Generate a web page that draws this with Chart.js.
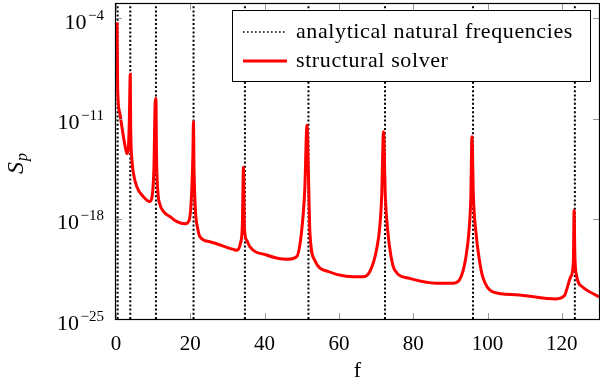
<!DOCTYPE html>
<html>
<head>
<meta charset="utf-8">
<script src="https://cdn.jsdelivr.net/npm/chart.js@4.4.1/dist/chart.umd.min.js"></script>
<style>
    html, body { margin: 0; padding: 0; background: #fff; }
    #wrap { width: 600px; height: 385px; }
</style>
</head>
<body>
<div id="wrap"><canvas id="chart" width="600" height="385"></canvas></div>
<script>
// analytische Eigenfrequenzen (gestrichelte Linien)
const naturalFreqs = [0.43, 3.84, 10.75, 20.87, 34.7, 51.8, 72.4, 96.1, 123.5];

// Strukturlöser: Frequenz und log10(S_p)
const solverF = [
    0.27, 0.45, 1.0, 1.6, 2.5, 2.95, 3.3, 3.6, 3.84, 3.95, 4.3, 4.7, 5.6, 7.4, 9.0, 9.6,
    10.2, 10.55, 10.75, 10.9, 11.3, 11.7, 12.8, 14.6, 16.4, 18.6, 19.7, 20.3, 20.7, 20.85,
    21.0, 21.4, 21.9, 22.6, 25.3, 31.6, 32.5, 33.5, 34.0, 34.3, 34.55, 35.2, 36.0, 40.5,
    45.9, 48.6, 49.9, 50.8, 51.4, 51.8, 52.2, 53.5, 57.3, 66.5, 68.3, 70.1, 71.0, 71.5,
    72.0, 72.5, 73.2, 74.0, 75.0, 79.0, 86.2, 90.6, 92.4, 94.2, 95.1, 95.5, 95.8, 96.2,
    96.9, 97.7, 98.7, 101.4, 107.6, 118.4, 120.6, 122.4, 123.1, 123.3, 123.5, 123.9,
    125.5, 128.2, 130.0
];
const solverExp = [
    -4.27, -9.0, -10.6, -11.6, -13.0, -13.45, -13.2, -11.0, -7.9, -11.5, -13.9, -14.83, -15.77, -16.47, -16.8, -16.6,
    -14.5, -9.9, -9.6, -13.5, -16.2, -16.9, -17.5, -17.86, -18.2, -18.35, -18.1, -16.5, -13.5, -11.2,
    -14.5, -17.5, -18.56, -19.26, -19.6, -20.14, -20.2, -19.7, -18.5, -14.4, -18.6, -19.5, -19.95, -20.53,
    -20.83, -20.65, -19.0, -16.0, -11.46, -15.0, -19.0, -20.9, -21.7, -22.05, -21.7, -20.2, -18.56, -16.5,
    -11.93, -16.5, -19.0, -20.6, -21.58, -22.16, -22.5, -22.5, -22.28, -20.65, -18.56, -16.5, -12.28, -16.5,
    -19.0, -20.7, -22.05, -23.1, -23.3, -23.6, -23.4, -22.05, -21.0, -17.4, -20.5, -21.9,
    -22.75, -23.2, -23.45
];

// Achsen
const xTicks = [0, 20, 40, 60, 80, 100, 120];
const xRange = [0, 130];
const yTickExps = [-25, -18, -11, -4];
const yRangeExp = [-25, -3];

const legendLabels = ['analytical natural frequencies', 'structural solver'];

const SERIF = '"Liberation Serif", "DejaVu Serif", serif';
const DOT_DASH = [2, 2.2];

// Datensätze aufbauen
const freqSets = naturalFreqs.map(f => ({
    label: legendLabels[0],
    data: [{ x: f, y: Math.pow(10, yRangeExp[0]) }, { x: f, y: Math.pow(10, yRangeExp[1]) }],
    borderColor: '#000',
    borderWidth: 2,
    borderDash: DOT_DASH,
    pointRadius: 0,
    order: 1
}));

const solverSet = {
    label: legendLabels[1],
    data: solverF.map((f, i) => ({ x: f, y: Math.pow(10, solverExp[i]) })),
    borderColor: 'rgb(255, 0, 0)',
    borderWidth: 3,
    pointRadius: 0,
    cubicInterpolationMode: 'monotone',
    order: 0
};

/**
 * Rahmen, nach innen zeigende Ticks, y-Beschriftung mit Exponent und Legende
 */
const decorPlugin = {
    id: 'decor',
    afterDatasetsDraw(chart) {
        const { ctx, chartArea: a, scales } = chart;
        ctx.save();

        // Ticks nach innen
        ctx.strokeStyle = '#9a9a9a';
        ctx.lineWidth = 1;
        ctx.beginPath();
        xTicks.forEach(v => {
            const px = Math.round(scales.x.getPixelForValue(v)) + 0.5;
            ctx.moveTo(px, a.bottom); ctx.lineTo(px, a.bottom - 6);
            ctx.moveTo(px, a.top); ctx.lineTo(px, a.top + 6);
        });
        yTickExps.forEach(e => {
            const py = Math.round(scales.y.getPixelForValue(Math.pow(10, e))) + 0.5;
            ctx.moveTo(a.left, py); ctx.lineTo(a.left + 6, py);
            ctx.moveTo(a.right, py); ctx.lineTo(a.right - 6, py);
        });
        ctx.stroke();

        // Rahmen
        ctx.strokeStyle = '#000';
        ctx.lineWidth = 1.2;
        ctx.strokeRect(a.left - 0.5, a.top - 0.5, a.right - a.left + 1, a.bottom - a.top + 1);

        // Legende
        const lx = 232.5, ly = 10.5, lw = 358, lh = 71;
        ctx.fillStyle = '#fff';
        ctx.fillRect(lx, ly, lw, lh);
        ctx.strokeStyle = '#000';
        ctx.lineWidth = 1;
        ctx.strokeRect(lx, ly, lw, lh);

        ctx.beginPath();
        ctx.setLineDash([1.6, 2.4]);
        ctx.lineWidth = 1.6;
        ctx.moveTo(243, 32); ctx.lineTo(287, 32);
        ctx.stroke();
        ctx.setLineDash([]);
        ctx.beginPath();
        ctx.strokeStyle = 'rgb(255, 0, 0)';
        ctx.lineWidth = 3;
        ctx.moveTo(243, 61); ctx.lineTo(287, 61);
        ctx.stroke();

        ctx.fillStyle = '#000';
        ctx.font = '22px ' + SERIF;
        ctx.letterSpacing = '0.6px';
        ctx.textAlign = 'left';
        ctx.textBaseline = 'alphabetic';
        ctx.fillText(legendLabels[0], 296, 37.5);
        ctx.fillText(legendLabels[1], 296, 66.5);
        ctx.letterSpacing = '0px';

        ctx.restore();
    },
    afterDraw(chart) {
        const { ctx, scales } = chart;
        ctx.save();
        ctx.fillStyle = '#000';
        ctx.textBaseline = 'alphabetic';

        // y-Beschriftung 10^e
        yTickExps.forEach(e => {
            const py = scales.y.getPixelForValue(Math.pow(10, e));
            const sup = '\u2212' + Math.abs(e);
            ctx.font = '15px ' + SERIF;
            const supW = ctx.measureText(sup).width;
            ctx.textAlign = 'right';
            ctx.fillText(sup, 104, py + 1.5);
            ctx.font = '22px ' + SERIF;
            ctx.fillText('10', 104 - supW - 1.5, py + 10.5);
        });

        // y-Achsentitel S_p
        ctx.translate(23, 174);
        ctx.rotate(-Math.PI / 2);
        ctx.textAlign = 'left';
        ctx.font = 'italic 24px ' + SERIF;
        ctx.fillText('S', 0, 0);
        const sW = ctx.measureText('S').width;
        ctx.font = 'italic 16px ' + SERIF;
        ctx.fillText('p', sW + 1, 4);

        ctx.restore();
    }
};

const chart = new Chart(document.getElementById('chart'), {
    type: 'line',
    data: { datasets: [solverSet, ...freqSets] },
    options: {
        responsive: false,
        animation: false,
        devicePixelRatio: 1,
        layout: { padding: { top: 4, right: 1, left: 0, bottom: 0 } },
        scales: {
            x: {
                type: 'linear',
                min: xRange[0],
                max: xRange[1],
                afterBuildTicks: scale => { scale.ticks = xTicks.map(v => ({ value: v })); },
                afterFit: scale => { scale.height = 66; },
                grid: { display: false },
                border: { display: false },
                ticks: {
                    font: { family: SERIF, size: 21 },
                    color: '#000',
                    padding: 5,
                    maxRotation: 0
                },
                title: {
                    display: true,
                    text: 'f',
                    font: { family: SERIF, size: 22 },
                    color: '#000',
                    padding: { top: 0, bottom: 1 }
                }
            },
            y: {
                type: 'logarithmic',
                min: Math.pow(10, yRangeExp[0]),
                max: Math.pow(10, yRangeExp[1]),
                afterBuildTicks: scale => { scale.ticks = yTickExps.map(e => ({ value: Math.pow(10, e) })); },
                afterFit: scale => { scale.width = 116; },
                grid: { display: false },
                border: { display: false },
                ticks: { display: false }
            }
        },
        plugins: {
            legend: { display: false },
            tooltip: { enabled: false }
        }
    },
    plugins: [decorPlugin]
});
</script>
</body>
</html>
